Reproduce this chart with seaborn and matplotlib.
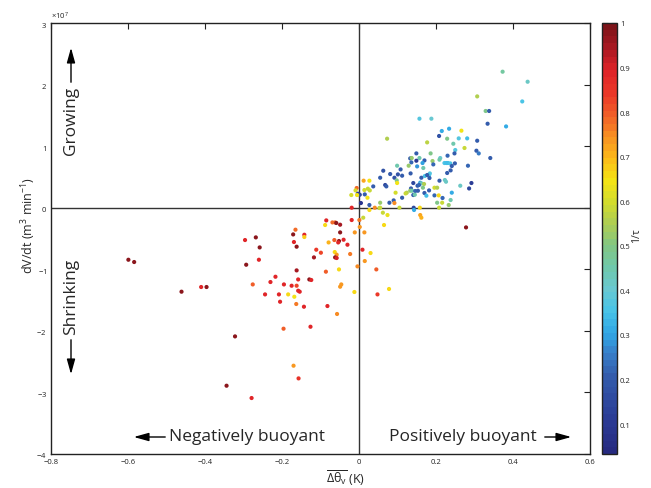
import numpy as np
import matplotlib
matplotlib.use("Agg")
import matplotlib.pyplot as plt
import seaborn as sns
from matplotlib.colors import LinearSegmentedColormap, ListedColormap, Normalize
from matplotlib.cm import ScalarMappable
from matplotlib.ticker import ScalarFormatter

# Mean virtual potential temperature excess of each cloud (K)
buoyancy = [
    -0.599, -0.584, -0.461, -0.410, -0.396, -0.296, -0.268, -0.258, -0.260, -0.293,
    -0.217, -0.230, -0.276, -0.244, -0.208, -0.205, -0.322, -0.344, -0.279, -0.057,
    -0.196, -0.126, -0.170, -0.157, 0.373, 0.438, 0.307, 0.424, 0.329, 0.338,
    0.334, 0.382, 0.157, 0.188, 0.266, 0.215, 0.234, 0.208, 0.229, 0.259,
    0.281, 0.073, 0.177, 0.245, 0.307, 0.274, 0.250, 0.305, 0.311, 0.248,
    0.149, 0.186, 0.341, 0.230, 0.133, 0.137, 0.157, 0.170, 0.149, 0.211,
    0.209, 0.191, 0.136, 0.165, 0.222, 0.227, 0.231, 0.237, 0.249, 0.193,
    0.283, 0.241, 0.099, 0.129, 0.151, 0.108, 0.167, 0.063, 0.238, 0.081,
    0.101, 0.112, 0.134, 0.184, 0.182, 0.171, 0.177, 0.162, 0.229, 0.092,
    0.055, 0.098, 0.183, 0.012, 0.027, 0.209, 0.223, 0.226, 0.099, 0.141,
    0.159, 0.162, 0.292, 0.068, 0.071, 0.037, 0.169, 0.152, 0.156, -0.006,
    0.023, 0.028, 0.135, 0.166, 0.196, 0.203, 0.263, 0.286, -0.009, 0.014,
    0.133, 0.138, 0.146, 0.153, 0.182, -0.003, 0.002, 0.015, -0.020, -0.005,
    0.095, 0.124, 0.121, 0.141, 0.145, 0.170, 0.196, 0.207, 0.175, 0.241,
    0.022, 0.217, 0.112, 0.203, 0.216, 0.079, 0.090, 0.092, 0.238, 0.233,
    0.005, 0.027, 0.055, -0.019, 0.041, 0.055, 0.053, 0.105, 0.142, 0.143,
    0.158, 0.208, 0.027, 0.062, 0.074, 0.159, 0.162, 0.011, 0.278, -0.085,
    -0.069, -0.062, -0.059, -0.049, -0.019, 0.001, -0.088, 0.065, -0.165, -0.171,
    -0.142, -0.142, -0.049, 0.002, -0.011, 0.014, -0.079, -0.064, -0.052, -0.054,
    -0.040, -0.030, -0.169, -0.162, -0.111, -0.099, -0.063, -0.058, -0.062, -0.058,
    -0.117, -0.023, 0.009, 0.030, 0.015, -0.004, -0.052, -0.086, 0.045, -0.162,
    -0.129, -0.124, -0.158, -0.195, -0.175, -0.162, -0.158, -0.154, -0.046, -0.049,
    0.078, -0.012, -0.184, -0.168, 0.048, -0.163, -0.143, -0.082,
]

# Rate of change of cloud volume, in units of 1e7 m^3 min^-1
growth_rate = [
    -0.845, -0.882, -1.364, -1.288, -1.288, -0.525, -0.482, -0.645, -0.845, -0.926,
    -1.121, -1.207, -1.246, -1.408, -1.408, -1.527, -2.090, -2.891, -3.091, -1.726,
    -1.965, -1.933, -2.566, -2.772, 2.209, 2.046, 1.808, 1.726, 1.571, 1.571,
    1.364, 1.320, 1.446, 1.446, 1.251, 1.246, 1.283, 1.165, 1.121, 1.126,
    1.126, 1.121, 1.061, 1.039, 1.088, 0.970, 0.937, 0.926, 0.882, 0.882,
    0.882, 0.882, 0.807, 0.845, 0.801, 0.807, 0.807, 0.768, 0.763, 0.807,
    0.780, 0.758, 0.736, 0.726, 0.726, 0.726, 0.726, 0.720, 0.720, 0.703,
    0.682, 0.677, 0.682, 0.682, 0.671, 0.622, 0.645, 0.601, 0.606, 0.547,
    0.541, 0.520, 0.557, 0.557, 0.525, 0.515, 0.531, 0.487, 0.564, 0.487,
    0.487, 0.443, 0.482, 0.439, 0.439, 0.439, 0.450, 0.422, 0.401, 0.401,
    0.406, 0.395, 0.401, 0.369, 0.346, 0.346, 0.385, 0.357, 0.369, 0.320,
    0.309, 0.281, 0.313, 0.325, 0.325, 0.325, 0.357, 0.313, 0.281, 0.287,
    0.276, 0.276, 0.271, 0.276, 0.281, 0.227, 0.211, 0.216, 0.206, 0.206,
    0.244, 0.244, 0.232, 0.206, 0.211, 0.239, 0.200, 0.200, 0.195, 0.244,
    0.162, 0.158, 0.162, 0.081, 0.081, 0.081, 0.119, 0.076, 0.125, 0.044,
    0.076, 0.044, 0.081, 0.000, 0.000, 0.000, -0.005, 0.000, 0.000, -0.037,
    0.000, 0.000, -0.037, -0.081, -0.119, -0.119, -0.162, -0.162, -0.320, -0.206,
    -0.239, -0.239, -0.248, -0.276, -0.200, -0.200, -0.281, -0.281, -0.357, -0.434,
    -0.439, -0.476, -0.401, -0.313, -0.401, -0.401, -0.564, -0.525, -0.541, -0.564,
    -0.520, -0.601, -0.557, -0.633, -0.682, -0.731, -0.720, -0.763, -0.807, -0.817,
    -0.807, -0.752, -0.682, -0.736, -0.866, -0.953, -1.002, -1.039, -1.002, -1.018,
    -1.165, -1.174, -1.165, -1.246, -1.267, -1.267, -1.348, -1.364, -1.246, -1.283,
    -1.320, -1.369, -1.408, -1.446, -1.408, -1.564, -1.608, -1.597,
]

# Inverse cloud lifetime, used for colour
inv_tau = [
    0.97, 0.97, 0.97, 0.88, 0.97, 0.88, 0.97, 0.97, 0.88, 0.97,
    0.88, 0.88, 0.80, 0.88, 0.88, 0.88, 0.97, 0.97, 0.88, 0.75,
    0.80, 0.88, 0.74, 0.86, 0.47, 0.42, 0.55, 0.36, 0.50, 0.20,
    0.20, 0.32, 0.38, 0.40, 0.64, 0.32, 0.32, 0.18, 0.50, 0.38,
    0.34, 0.56, 0.57, 0.45, 0.20, 0.58, 0.38, 0.20, 0.25, 0.20,
    0.20, 0.50, 0.20, 0.22, 0.20, 0.52, 0.45, 0.20, 0.10, 0.40,
    0.45, 0.52, 0.22, 0.30, 0.36, 0.34, 0.34, 0.36, 0.20, 0.22,
    0.22, 0.20, 0.45, 0.53, 0.28, 0.20, 0.45, 0.18, 0.20, 0.20,
    0.18, 0.20, 0.20, 0.38, 0.36, 0.36, 0.20, 0.20, 0.20, 0.18,
    0.20, 0.50, 0.20, 0.72, 0.65, 0.20, 0.42, 0.42, 0.64, 0.15,
    0.30, 0.44, 0.12, 0.15, 0.20, 0.20, 0.55, 0.20, 0.22, 0.78,
    0.58, 0.58, 0.20, 0.50, 0.60, 0.56, 0.42, 0.15, 0.60, 0.60,
    0.52, 0.45, 0.22, 0.20, 0.20, 0.12, 0.15, 0.20, 0.60, 0.65,
    0.60, 0.56, 0.58, 0.20, 0.45, 0.20, 0.22, 0.66, 0.34, 0.32,
    0.65, 0.22, 0.20, 0.50, 0.58, 0.20, 0.20, 0.75, 0.45, 0.52,
    0.08, 0.20, 0.52, 0.88, 0.75, 0.58, 0.58, 0.58, 0.15, 0.32,
    0.66, 0.58, 0.66, 0.58, 0.63, 0.72, 0.70, 0.58, 0.97, 0.88,
    0.78, 0.78, 0.97, 0.95, 0.88, 0.76, 0.66, 0.66, 0.78, 0.97,
    0.88, 0.68, 0.97, 0.74, 0.74, 0.74, 0.70, 0.80, 0.97, 0.88,
    0.88, 0.88, 0.88, 0.97, 0.84, 0.82, 0.66, 0.74, 0.97, 0.90,
    0.95, 0.76, 0.88, 0.66, 0.73, 0.75, 0.66, 0.80, 0.80, 0.95,
    0.97, 0.88, 0.88, 0.88, 0.88, 0.82, 0.88, 0.88, 0.74, 0.74,
    0.66, 0.66, 0.66, 0.65, 0.84, 0.76, 0.88, 0.88,
]

cbar_ticks = [0.1, 0.2, 0.3, 0.4, 0.5, 0.6, 0.7, 0.8, 0.9, 1.0]
x_ticks = [-0.8, -0.6, -0.4, -0.2, 0, 0.2, 0.4, 0.6]
y_ticks = [-4, -3, -2, -1, 0, 1, 2, 3]

x = np.array(buoyancy)
y = np.array(growth_rate) * 1e7
c = np.array(inv_tau)

# Jet-like palette with printed (muted) tones, 64 discrete levels
vmin, vmax = 0.033, 1.0
anchors = [
    (vmin, (38, 42, 128)), (0.10, (42, 58, 148)), (0.20, (52, 92, 172)),
    (0.25, (55, 125, 200)), (0.30, (48, 165, 228)), (0.35, (70, 195, 232)),
    (0.40, (105, 200, 210)), (0.45, (112, 200, 170)), (0.50, (130, 198, 130)),
    (0.55, (172, 205, 85)), (0.60, (210, 220, 45)), (0.65, (245, 228, 20)),
    (0.70, (252, 185, 25)), (0.75, (247, 142, 35)), (0.80, (240, 95, 40)),
    (0.85, (235, 55, 40)), (0.90, (222, 35, 40)), (0.95, (170, 25, 35)),
    (1.00, (125, 20, 25)),
]
smooth = LinearSegmentedColormap.from_list(
    "muted_jet",
    [((v - vmin) / (vmax - vmin), tuple(ch / 255 for ch in rgb)) for v, rgb in anchors],
)
cmap = ListedColormap(smooth(np.linspace(0, 1, 64)))
norm = Normalize(vmin=vmin, vmax=vmax)

sns.set_style("white")
plt.rcParams["font.family"] = ["Open Sans", "DejaVu Sans"]
plt.rcParams["mathtext.fontset"] = "custom"
plt.rcParams["mathtext.rm"] = "Open Sans"
plt.rcParams["mathtext.it"] = "Open Sans"

fig = plt.figure(figsize=(6.51, 4.89), dpi=100)
ax = fig.add_axes([51 / 651, 1 - 455 / 489, 539 / 651, 431 / 489])

# Quadrant lines through the origin
ax.axhline(0, color="#333333", lw=1.0, zorder=1)
ax.axvline(0, color="#333333", lw=1.0, zorder=1)

sns.scatterplot(x=x, y=y, hue=c, palette=cmap, hue_norm=norm, s=9,
                linewidth=0, legend=False, ax=ax, zorder=3)

ax.set_xlim(-0.8, 0.6)
ax.set_ylim(-4e7, 3e7)
ax.set_xticks(x_ticks)
ax.set_yticks([v * 1e7 for v in y_ticks])
ax.set_xticklabels([f"{t:g}".replace("-", "\u2212") for t in x_ticks])
fmt = ScalarFormatter(useMathText=True)
fmt.set_powerlimits((0, 0))
ax.yaxis.set_major_formatter(fmt)
ax.yaxis.get_offset_text().set_fontsize(5.5)

for s in ax.spines.values():
    s.set_color("#222222")
    s.set_linewidth(1.0)
ax.tick_params(direction="in", length=4, width=0.8, labelsize=5.5,
               colors="#222222", top=True, right=True, pad=3)

ax.set_xlabel(r"$\overline{\Delta\theta_{v}}$ (K)", fontsize=9)
ax.xaxis.set_label_coords((346 - 51) / 539, (455 - 478) / 431)
ax.xaxis.label.set_va("center")
ax.set_ylabel(r"dV/dt (m$^3$ min$^{-1}$)", fontsize=9)
ax.yaxis.set_label_coords((29 - 51) / 539, (455 - 225) / 431)
ax.yaxis.label.set_va("center")

# Direction annotations inside the axes
def px(xp, yp):
    return ((xp - 51) / 539, (455 - yp) / 431)

arrow = dict(arrowstyle="-|>,head_length=0.9,head_width=0.25", color="black", lw=1.0)
ax.text(*px(71, 121), "Growing", rotation=90, fontsize=12.5, ha="center", va="center",
        transform=ax.transAxes)
ax.annotate("", xy=px(71, 46), xytext=px(71, 86), xycoords="axes fraction",
            arrowprops=arrow)
ax.text(*px(71, 297), "Shrinking", rotation=90, fontsize=12.5, ha="center", va="center",
        transform=ax.transAxes)
ax.annotate("", xy=px(71, 378), xytext=px(71, 338), xycoords="axes fraction",
            arrowprops=arrow)
ax.text(*px(247, 437), "Negatively buoyant", fontsize=12.5, ha="center", va="center",
        transform=ax.transAxes)
ax.annotate("", xy=px(131, 438), xytext=px(168, 438), xycoords="axes fraction",
            arrowprops=arrow)
ax.text(*px(463, 437), "Positively buoyant", fontsize=12.5, ha="center", va="center",
        transform=ax.transAxes)
ax.annotate("", xy=px(574, 438), xytext=px(542, 438), xycoords="axes fraction",
            arrowprops=arrow)

# Colour bar
cax = fig.add_axes([602 / 651, 1 - 455 / 489, 15 / 651, 431 / 489])
cb = fig.colorbar(ScalarMappable(norm=norm, cmap=cmap), cax=cax, ticks=cbar_ticks)
cb.ax.set_yticklabels([f"{t:g}" for t in cbar_ticks])
cb.outline.set_linewidth(1.0)
cb.outline.set_edgecolor("#222222")
cb.ax.tick_params(direction="in", length=4, width=0.8, labelsize=5.5,
                  colors="#222222", left=True, right=True, pad=2)
cb.set_label("1/τ", fontsize=7.5, rotation=90)
cb.ax.yaxis.set_label_coords((637 - 602) / 15, (455 - 236) / 431)
cb.ax.yaxis.label.set_va("center")
cb.ax.yaxis.label.set_ha("center")

fig.savefig("out.png", dpi=100)
